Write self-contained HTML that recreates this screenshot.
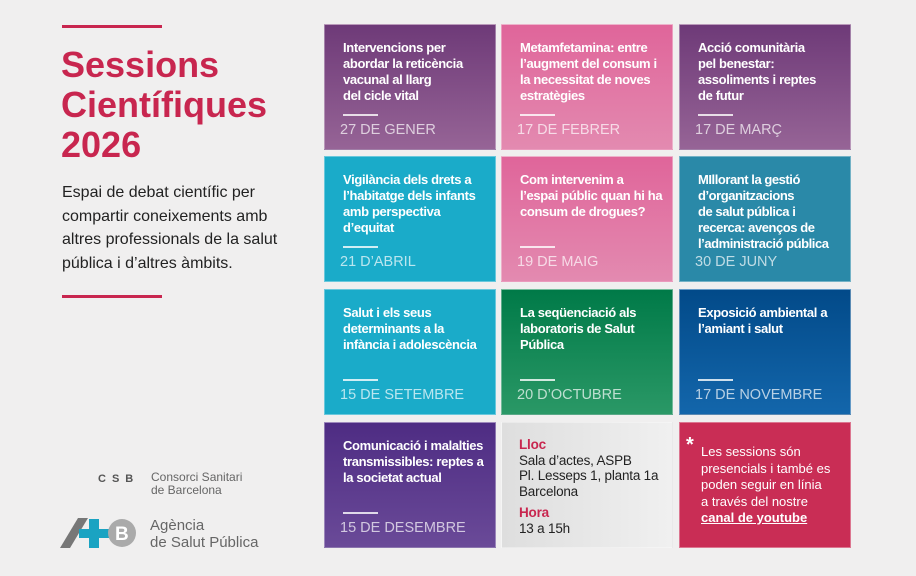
<!DOCTYPE html>
<html><head><meta charset="utf-8"><style>
body{margin:0;width:916px;height:576px;background:#f0efef;font-family:"Liberation Sans",sans-serif;position:relative;overflow:hidden}
.rl{position:absolute;left:62px;width:100px;height:3px;background:#c8264f}
h1{position:absolute;left:61px;top:45px;margin:0;font-size:36px;line-height:40px;color:#c8264f;font-weight:bold;letter-spacing:0px}
.intro{position:absolute;left:62px;top:181px;width:280px;font-size:16px;line-height:23.5px;color:#222;letter-spacing:0px}
.card{position:absolute;width:172px;height:126px;color:#fff;box-sizing:border-box;border:1px solid rgba(255,255,255,.35)}
.card .t{position:absolute;left:18px;top:15px;width:170px;font-size:13px;font-weight:bold;line-height:16px;letter-spacing:-0.35px;white-space:nowrap}
.card .ln{position:absolute;left:18px;top:89px;width:35px;height:2px;background:rgba(255,255,255,.8)}
.card .d{position:absolute;left:15px;top:97px;font-size:14.5px;color:rgba(255,255,255,.7);letter-spacing:0px}
.plum{background:linear-gradient(#6e3a78,#966496)}
.pink{background:linear-gradient(#e0659a,#e38ab0)}
.cyan{background:#1aabc9}
.teal{background:#2a89a8}
.green{background:linear-gradient(#007a48,#2a9866)}
.blue{background:linear-gradient(#024a89,#1366ab)}
.purple{background:linear-gradient(#4e2c83,#6a4a98)}
.grey{background:linear-gradient(90deg,#dedede,#f0f0f0);color:#222}
.red{background:#c92d55}
.logo{position:absolute;color:#666;font-size:12px;line-height:13px}
</style></head><body>
<div class="rl" style="top:25px"></div>
<h1>Sessions<br>Científiques<br>2026</h1>
<div class="intro">Espai de debat científic per<br>compartir coneixements amb<br>altres professionals de la salut<br>pública i d’altres àmbits.</div>
<div class="rl" style="top:295px"></div>

<div class="logo" style="left:98px;top:472px"><b style="letter-spacing:6px;font-size:11px;color:#555">CSB</b></div>
<div class="logo" style="left:151px;top:471px">Consorci Sanitari<br>de Barcelona</div>
<svg style="position:absolute;left:58px;top:516px" width="80" height="34">
<polygon points="2,32 20,2 30,2 12,32" fill="#777"/>
<rect x="21" y="13" width="30" height="9" fill="#1aa3c2"/><rect x="31" y="3" width="10" height="29" fill="#1aa3c2"/>
<circle cx="64" cy="17" r="14" fill="#aaa"/><text x="57" y="24" font-size="19" font-weight="bold" fill="#fff" font-family="Liberation Sans">B</text></svg>
<div class="logo" style="left:150px;top:517px;font-size:15px;line-height:17px">Agència<br>de Salut Pública</div>

<div class="card plum" style="left:324px;top:24px"><div class="t">Intervencions per<br>abordar la reticència<br>vacunal al llarg<br>del cicle vital</div><div class="ln"></div><div class="d">27 DE GENER</div></div>
<div class="card pink" style="left:501px;top:24px"><div class="t">Metamfetamina: entre<br>l’augment del consum i<br>la necessitat de noves<br>estratègies</div><div class="ln"></div><div class="d">17 DE FEBRER</div></div>
<div class="card plum" style="left:679px;top:24px"><div class="t">Acció comunitària<br>pel benestar:<br>assoliments i reptes<br>de futur</div><div class="ln"></div><div class="d">17 DE MARÇ</div></div>

<div class="card cyan" style="left:324px;top:156px"><div class="t">Vigilància dels drets a<br>l’habitatge dels infants<br>amb perspectiva<br>d’equitat</div><div class="ln"></div><div class="d">21 D’ABRIL</div></div>
<div class="card pink" style="left:501px;top:156px"><div class="t">Com intervenim a<br>l’espai públic quan hi ha<br>consum de drogues?</div><div class="ln"></div><div class="d">19 DE MAIG</div></div>
<div class="card teal" style="left:679px;top:156px"><div class="t" style="letter-spacing:-0.45px">MIllorant la gestió<br>d’organitzacions<br>de salut pública i<br>recerca: avenços de<br>l’administració pública</div><div class="d">30 DE JUNY</div></div>

<div class="card cyan" style="left:324px;top:289px"><div class="t">Salut i els seus<br>determinants a la<br>infància i adolescència</div><div class="ln"></div><div class="d">15 DE SETEMBRE</div></div>
<div class="card green" style="left:501px;top:289px"><div class="t">La seqüenciació als<br>laboratoris de Salut<br>Pública</div><div class="ln"></div><div class="d">20 D’OCTUBRE</div></div>
<div class="card blue" style="left:679px;top:289px"><div class="t">Exposició ambiental a<br>l’amiant i salut</div><div class="ln"></div><div class="d">17 DE NOVEMBRE</div></div>

<div class="card purple" style="left:324px;top:422px"><div class="t">Comunicació i malalties<br>transmissibles: reptes a<br>la societat actual</div><div class="ln"></div><div class="d">15 DE DESEMBRE</div></div>
<div class="card grey" style="left:501px;top:422px;font-size:13.5px;line-height:15.5px;letter-spacing:-0.2px">
<div style="position:absolute;left:17px;top:14px;white-space:nowrap"><b style="color:#c8264f">Lloc</b><br>Sala d’actes, ASPB<br>Pl. Lesseps 1, planta 1a<br>Barcelona<div style="height:6px"></div><b style="color:#c8264f">Hora</b><br>13 a 15h</div></div>
<div class="card red" style="left:679px;top:422px;font-size:13px;line-height:16.5px">
<div style="position:absolute;left:6px;top:14px;font-size:20px;font-weight:bold">*</div>
<div style="position:absolute;left:21px;top:21px;width:150px;white-space:nowrap">Les sessions són<br>presencials i també es<br>poden seguir en línia<br>a través del nostre<br><a style="color:#fff;font-weight:bold;text-decoration:underline">canal de youtube</a></div></div>
</body></html>
